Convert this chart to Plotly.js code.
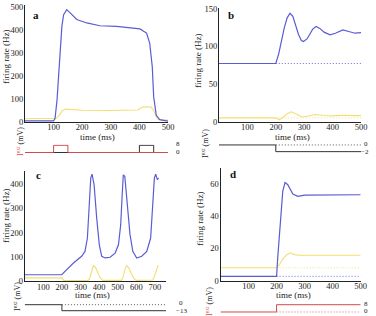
<!DOCTYPE html>
<html>
<head>
<meta charset="utf-8">
<script src="https://cdn.plot.ly/plotly-3.0.1.min.js"></script>
<style>html,body{margin:0;padding:0;background:#fff}</style>
</head>
<body>
<div id="chart" style="width:376px;height:316px"></div>
<script>
// ---- panel a: pulse stimulation ----
const aTime   = [0, 50, 100, 105, 112, 118, 123, 129, 135, 146, 158, 181, 216, 262, 320, 378, 402, 425, 436, 445, 450, 459, 471, 500];
const aRate   = [5, 5, 5, 15, 95, 210, 313, 415, 466, 488, 474, 445, 430, 418, 415, 408, 404, 386, 343, 240, 109, 29, 10, 4];
const aYTime  = [0, 100, 110, 120, 130, 140, 160, 200, 300, 380, 395, 405, 415, 440, 450, 458, 465, 480, 500];
const aYRate  = [14, 14, 16, 30, 48, 56, 55, 51, 50, 50, 52, 62, 66, 65, 50, 25, 12, 8, 8];
const aStimRedT = [0, 100, 100, 150, 150, 500];
const aStimRedV = [0, 0, 8, 8, 0, 0];
const aStimBlkT = [0, 400, 400, 450, 450, 500];
const aStimBlkV = [0, 0, 8, 8, 0, 0];

// ---- panel b: step down by 2 mV ----
const bTime  = [0, 200, 210, 220, 230, 240, 250, 260, 270, 280, 290, 297, 310, 320, 330, 342, 355, 370, 391, 410, 436, 460, 479, 500];
const bRate  = [77.5, 77.5, 90, 108, 125, 138, 144, 140, 128, 116, 108, 106.5, 110, 117, 123, 126.5, 124, 119, 115.4, 117.5, 122, 119.5, 117.6, 118.5];
const bYTime = [0, 200, 212, 225, 240, 255, 270, 290, 300, 320, 340, 365, 390, 415, 440, 470, 500];
const bYRate = [5.5, 5.5, 3, 6, 11, 13.5, 11, 7, 7, 9, 10, 9, 8, 8.5, 9, 8.5, 8.5];
const bRest  = [200, 500];
const bRestRate = [77.5, 77.5];
const bRestY = [5.5, 5.5];
const bStimT = [0, 200, 200, 500];
const bStimV = [0, 0, -2, -2];

// ---- panel c: step down by 13 mV, oscillation ----
const cTime  = [0, 199, 226, 262, 306, 324, 337, 348, 355, 362, 373, 387, 401, 414, 432, 459, 486, 504, 516, 523, 530, 538, 548, 566, 581, 602, 629, 656, 677, 688, 697, 704, 713, 720];
const cRate  = [27, 27, 48, 75, 103, 123, 178, 315, 425, 441, 397, 260, 150, 103, 96, 99, 116, 150, 233, 342, 438, 432, 356, 192, 123, 96, 103, 123, 178, 301, 425, 441, 418, 425];
const cYTime = [0, 200, 210, 340, 348, 360, 369, 380, 392, 405, 420, 520, 530, 540, 548, 560, 574, 588, 600, 688, 698, 708, 716, 720];
const cYRate = [14, 14, 3, 3, 10, 40, 64, 58, 38, 15, 4, 4, 20, 52, 64, 55, 30, 10, 4, 5, 22, 52, 64, 62];
const cRest  = [200, 760];
const cStimT = [0, 200, 200, 760];
const cStimV = [0, 0, -13, -13];

// ---- panel d: step up by 8 mV ----
const dTime  = [0, 200, 204, 214, 222, 230, 240, 258, 276, 300, 360, 500];
const dRate  = [2.7, 2.7, 14, 39, 55.5, 61, 59.6, 53.8, 52.4, 53.2, 53.4, 53.4];
const dYTime = [0, 200, 210, 220, 235, 248, 265, 280, 500];
const dYRate = [8, 8, 10, 13, 16, 17.2, 16.2, 15.8, 15.8];
const dRest  = [200, 500];
const dRestRate = [2.7, 2.7];
const dRestY = [8, 8];
const dStimT = [0, 200, 200, 500];
const dStimV = [0, 0, 8, 8];

const xTicksA = [100, 200, 300, 400, 500];
const yTicksA = [0, 100, 200, 300, 400, 500];
const yTicksB = [0, 50, 100, 150];
const xTicksC = [100, 200, 300, 400, 500, 600, 700];
const yTicksC = [0, 100, 200, 300, 400];
const yTicksD = [0, 20, 40, 60];

const BLUE = '#5b5bd4', YEL = '#f1df72', RED = '#d24a4a', BLK = '#333333';
const DOT = '1px,2px';
const W = 376, H = 316;
const px = (a, b) => [a / W, b / W];
const py = (bottom, top) => [1 - bottom / H, 1 - top / H];
const FONT = 'Liberation Serif, Times New Roman, serif';

function line(x, y, xa, ya, color, width, dash) {
  return {x, y, xaxis: xa, yaxis: ya, type: 'scatter', mode: 'lines',
          line: {color, width: width || 1, dash: dash || 'solid'},
          hoverinfo: 'skip', showlegend: false};
}

const data = [
  line(aYTime, aYRate, 'x', 'y', YEL, 1.1),
  line(aTime, aRate, 'x', 'y', BLUE, 1.2),
  line(aStimBlkT, aStimBlkV, 'x2', 'y2', BLK, 1),
  line(aStimRedT, aStimRedV, 'x2', 'y2', RED, 1),

  line(bRest, bRestY, 'x3', 'y3', YEL, 0.9, DOT),
  line(bYTime, bYRate, 'x3', 'y3', YEL, 1.1),
  line(bRest, bRestRate, 'x3', 'y3', BLUE, 0.9, DOT),
  line(bTime, bRate, 'x3', 'y3', BLUE, 1.2),
  line(bRest, [0, 0], 'x4', 'y4', BLK, 0.8, DOT),
  line(bStimT, bStimV, 'x4', 'y4', BLK, 1),

  line(cYTime, cYRate, 'x5', 'y5', YEL, 1.1),
  line(cTime, cRate, 'x5', 'y5', BLUE, 1.2),
  line(cRest, [0, 0], 'x6', 'y6', BLK, 0.8, DOT),
  line(cStimT, cStimV, 'x6', 'y6', BLK, 1),

  line(dRest, dRestY, 'x7', 'y7', YEL, 0.9, DOT),
  line(dYTime, dYRate, 'x7', 'y7', YEL, 1.1),
  line(dRest, dRestRate, 'x7', 'y7', BLUE, 0.9, DOT),
  line(dTime, dRate, 'x7', 'y7', BLUE, 1.2),
  line(dRest, [0, 0], 'x8', 'y8', RED, 0.8, DOT),
  line(dStimT, dStimV, 'x8', 'y8', RED, 1)
];

function xMain(domain, range, ticks, anchor) {
  return {domain, range, anchor, showline: true, linecolor: '#222', linewidth: 1,
          showgrid: false, zeroline: false, ticks: '', tickvals: ticks,
          ticklabelstandoff: -3,
          tickfont: {family: FONT, size: 8.5, color: '#222'}, fixedrange: true};
}
function yMain(domain, range, ticks, anchor) {
  return {domain, range, anchor, showline: true, linecolor: '#222', linewidth: 1,
          showgrid: false, zeroline: false, ticks: '', tickvals: ticks,
          ticklabelstandoff: -1,
          tickfont: {family: FONT, size: 8.5, color: '#222'}, fixedrange: true};
}
function hidden(domain, range, anchor) {
  return {domain, range, anchor, visible: false, fixedrange: true};
}

const ann = [];
function txt(x, y, text, opts) {
  ann.push(Object.assign({x: x / W, y: 1 - y / H, xref: 'paper', yref: 'paper', text,
    showarrow: false, xanchor: 'center', yanchor: 'middle',
    font: {family: FONT, size: 9, color: '#222'}}, opts || {}));
}
// panel letters
const bold = {font: {family: FONT, size: 11, color: '#111'}};
txt(36, 15, '<b>a</b>', bold);
txt(231, 15, '<b>b</b>', bold);
txt(38, 175, '<b>c</b>', bold);
txt(233, 174, '<b>d</b>', bold);
// axis titles
txt(97, 136.5, 'time (ms)');
txt(292, 136.5, 'time (ms)');
txt(92, 295, 'time (ms)');
txt(293, 295, 'time (ms)');
txt(6, 57, 'firing rate (Hz)', {textangle: -90});
txt(198, 61, 'firing rate (Hz)', {textangle: -90});
txt(6, 216, 'firing rate (Hz)', {textangle: -90});
txt(200, 219, 'firing rate (Hz)', {textangle: -90});
// stimulus titles
const stimFont = {textangle: -90, font: {family: FONT, size: 8, color: '#222'}};
txt(20, 142, '<span style="color:#d24a4a">I<sup>ext</sup></span> (mV)', stimFont);
txt(205, 144, 'I<sup>ext</sup> (mV)', stimFont);
txt(17, 297, 'I<sup>ext</sup> (mV)', stimFont);
txt(209, 302, '<span style="color:#d24a4a">I<sup>ext</sup></span> (mV)', stimFont);
// stimulus level labels
const small = {xanchor: 'left', font: {family: FONT, size: 7, color: '#222'}};
txt(174, 144, '8', small);
txt(174, 152, '0', small);
txt(362, 144.3, '0', small);
txt(359, 151.5, '\u22122', small);
txt(177, 302.5, '0', small);
txt(174, 311, '\u221213', small);
txt(362, 303.5, '8', small);
txt(362, 311, '0', small);

const layout = {
  width: W, height: H, margin: {l: 0, r: 0, t: 0, b: 0},
  paper_bgcolor: '#fff', plot_bgcolor: 'rgba(0,0,0,0)',
  font: {family: FONT, size: 9, color: '#222'},
  showlegend: false,
  xaxis:  xMain(px(25, 168), [0, 500], xTicksA, 'y'),
  yaxis:  yMain(py(122, 5), [0, 508], yTicksA, 'x'),
  xaxis2: hidden(px(25, 168), [0, 500], 'y2'),
  yaxis2: hidden(py(153.4, 144.4), [-1, 9], 'x2'),
  xaxis3: xMain(px(219, 361), [0, 500], xTicksA, 'y3'),
  yaxis3: yMain(py(122, 8), [0, 151], yTicksB, 'x3'),
  xaxis4: hidden(px(219, 361), [0, 500], 'y4'),
  yaxis4: hidden(py(155, 141.6), [-3, 1], 'x4'),
  xaxis5: xMain(px(24.7, 166.1), [0, 760], xTicksC, 'y5'),
  yaxis5: yMain(py(281.3, 170.7), [0, 455], yTicksC, 'x5'),
  xaxis6: hidden(px(24.7, 166.1), [0, 760], 'y6'),
  yaxis6: hidden(py(312.1, 303.3), [-16, 3], 'x6'),
  xaxis7: xMain(px(220.5, 360.7), [0, 500], xTicksA, 'y7'),
  yaxis7: yMain(py(280.7, 168), [0, 70], yTicksD, 'x7'),
  xaxis8: hidden(px(220.5, 360.7), [0, 500], 'y8'),
  yaxis8: hidden(py(312.9, 303.8), [-1, 9], 'x8'),
  annotations: ann
};

Plotly.newPlot('chart', data, layout, {staticPlot: true, displayModeBar: false});
</script>
</body>
</html>
